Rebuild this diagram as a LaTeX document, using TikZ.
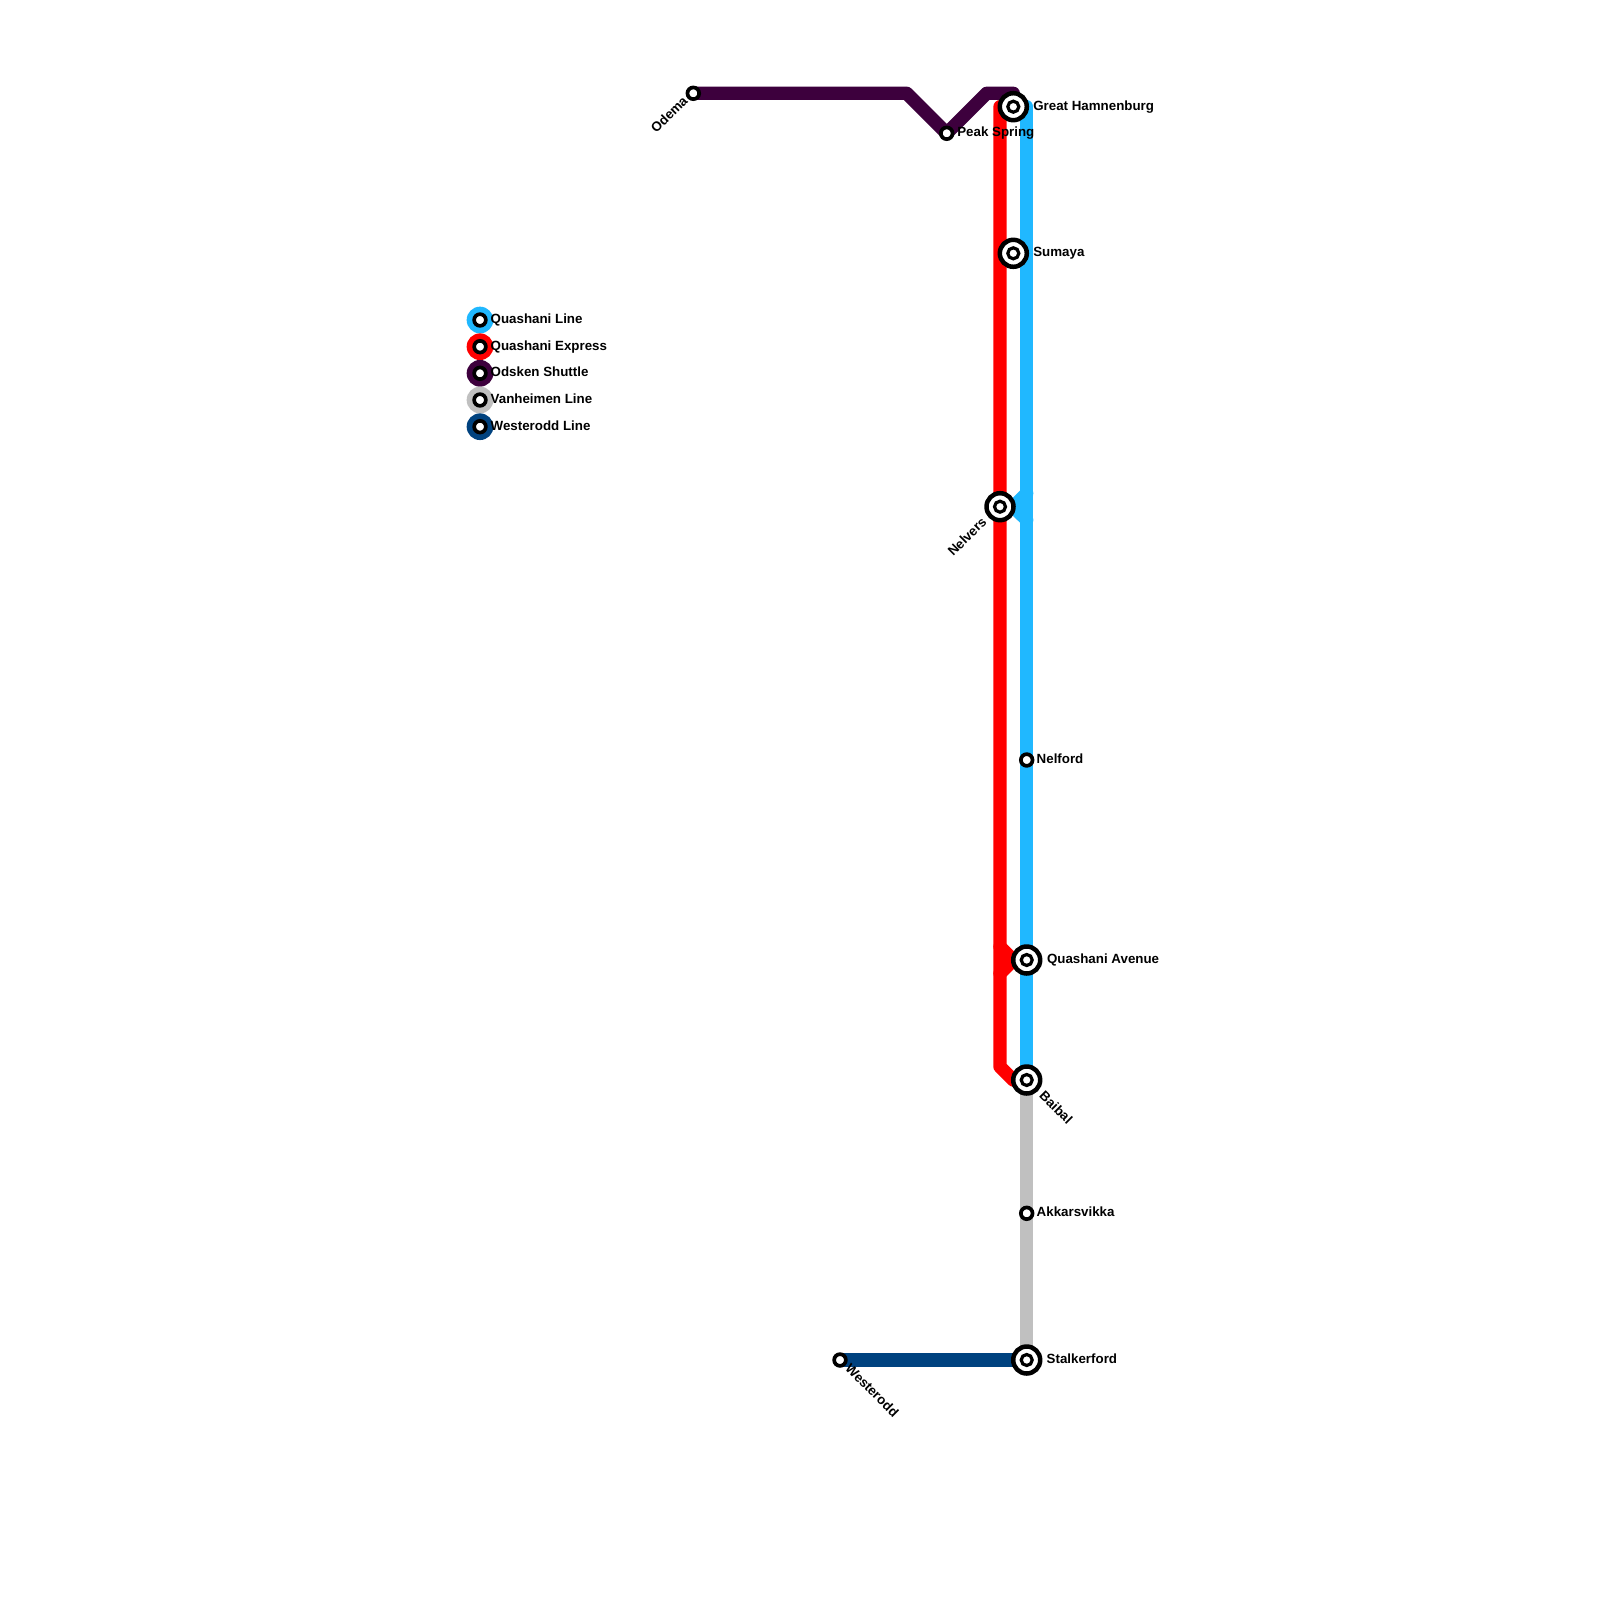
\documentclass[tikz,border=0pt]{standalone}
\usepackage{fontspec}
\setmainfont{Liberation Sans}
\usetikzlibrary{backgrounds}
\definecolor{qline}{HTML}{20B8FF}
\definecolor{qexp}{HTML}{FF0000}
\definecolor{odsk}{HTML}{3D003D}
\definecolor{vanh}{HTML}{C0C0C0}
\definecolor{west}{HTML}{00427F}
\tikzset{
  x=1pt,y=-1pt,
  innerring/.style={circle,draw=black,fill=white,line width=3.2pt,minimum size=11pt,inner sep=0pt,outer sep=0pt},
  bigst/.style={circle,draw=black,fill=white,line width=4.5pt,minimum size=27pt,inner sep=0pt,outer sep=0pt,label={[innerring]center:}},
  smallst/.style={circle,draw=black,fill=white,line width=3.7pt,minimum size=11.7pt,inner sep=0pt,outer sep=0pt},
  route/.style={line width=13.33pt,line cap=round,line join=round},
  legdot/.style={circle,minimum size=26.7pt,inner sep=0pt,outer sep=0pt},
  lab/.style={font=\bfseries\fontsize{13.33pt}{15pt}\selectfont,inner sep=0pt,outer sep=0pt,text=black},
}
\begin{document}
\begin{tikzpicture}
\useasboundingbox (0,0) rectangle (1600,1600);
% stations
\node[bigst] (hamn) at (1013.3,106.7) {};
\node[bigst] (suma) at (1013.3,253.3) {};
\node[bigst] (nelv) at (1000,506.7) {};
\node[bigst] (quav) at (1026.7,960) {};
\node[bigst] (baib) at (1026.7,1080) {};
\node[bigst] (stal) at (1026.7,1360) {};
\node[smallst] (oder) at (693.3,93.3) {};
\node[smallst] (peak) at (946.7,133.3) {};
\node[smallst] (nelf) at (1026.7,760) {};
\node[smallst] (akka) at (1026.7,1213.3) {};
\node[smallst] (wsto) at (840,1360) {};
% route junctions
\coordinate (qtop) at (1026.7,106.7);
\coordinate (rtop) at (1000,106.7);
\coordinate (nup) at (1026.7,493.3);
\coordinate (ntip) at (1013.3,506.7);
\coordinate (ndn) at (1026.7,520);
\coordinate (qup) at (1000,946.7);
\coordinate (qtip) at (1013.3,960);
\coordinate (qdn) at (1000,973.3);
\coordinate (rbot) at (1000,1066.7);
\coordinate (rdiag) at (1013.3,1080);
\coordinate (p1) at (906.7,93.3);
\coordinate (p2) at (986.7,93.3);
\coordinate (p3) at (1013.3,93.3);
\begin{scope}[on background layer]
\fill[white] (0,0) rectangle (1600,1600);
\draw[route,qline] (qtop) -- (baib.center);
\draw[route,qline] (nup) -- (ntip) -- (ndn);
\draw[route,qline] (ntip) -- (nelv.center);
\draw[route,qexp] (rtop) -- (rbot) -- (rdiag) -- (baib.center);
\draw[route,qexp] (qup) -- (qtip) -- (qdn);
\draw[route,qexp] (qtip) -- (quav.center);
\draw[route,odsk] (oder.center) -- (p1) -- (peak.center) -- (p2) -- (p3) -- (hamn.center);
\draw[route,vanh] (baib.center) -- (stal.center);
\draw[route,west] (wsto.center) -- (stal.center);
\end{scope}
% station labels
\node[lab,anchor=west] (lhamn) at (1033.3,106.9) {Great Hamnenburg};
\node[lab,anchor=west] (lpeak) at (957.3,133) {Peak Spring};
\node[lab,anchor=west] (lsuma) at (1033.3,252.9) {Sumaya};
\node[lab,anchor=west] (lnelf) at (1036.7,759) {Nelford};
\node[lab,anchor=west] (lquav) at (1047,959.5) {Quashani Avenue};
\node[lab,anchor=west] (lakka) at (1036.7,1212.2) {Akkarsvikka};
\node[lab,anchor=west] (lstal) at (1046.7,1358.8) {Stalkerford};
\node[lab,anchor=east,rotate=45] (loder) at (685,98.5) {Odema};
\node[lab,anchor=east,rotate=45] (lnelv) at (984,519.5) {Nelvers};
\node[lab,anchor=west,rotate=-45] (lbaib) at (1042,1093) {Baibal};
\node[lab,anchor=west,rotate=-45] (lwsto) at (848,1366) {Westerodd};
% legend
\node[legdot,fill=qline] (k1) at (480,320) {};
\node[legdot,fill=qexp] (k2) at (480,346.7) {};
\node[legdot,fill=odsk] (k3) at (480,373.3) {};
\node[legdot,fill=vanh] (k4) at (480,400) {};
\node[legdot,fill=west] (k5) at (480,426.7) {};
\node[smallst] (s1) at (k1) {};
\node[smallst] (s2) at (k2) {};
\node[smallst] (s3) at (k3) {};
\node[smallst] (s4) at (k4) {};
\node[smallst] (s5) at (k5) {};
\node[lab,anchor=west] (t1) at (490.7,319.7) {Quashani Line};
\node[lab,anchor=west] (t2) at (490.7,346.6) {Quashani Express};
\node[lab,anchor=west] (t3) at (490.7,371.8) {Odsken Shuttle};
\node[lab,anchor=west] (t4) at (490.7,399) {Vanheimen Line};
\node[lab,anchor=west] (t5) at (490.7,425.6) {Westerodd Line};
\end{tikzpicture}
\end{document}
